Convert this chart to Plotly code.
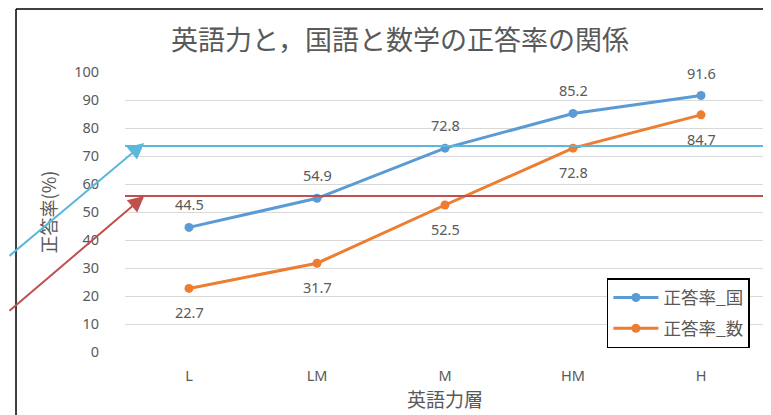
import plotly.graph_objects as go

categories = ["L", "LM", "M", "HM", "H"]
kokugo = [44.5, 54.9, 72.8, 85.2, 91.6]
sugaku = [22.7, 31.7, 52.5, 72.8, 84.7]
y_ticks = list(range(0, 101, 10))

# reference lines marked by the arrows
ref_kokugo = 73.6
ref_sugaku = 55.7

BLUE = "#5B9BD5"
ORANGE = "#ED7D31"
SKY = "#5BB8DC"
RED = "#C0504D"
GRAY = "#595959"
FONT = "Noto Sans, Noto Sans CJK JP, sans-serif"
JFONT = "Noto Sans CJK JP, sans-serif"

fig = go.Figure()
fig.add_trace(go.Scatter(x=categories, y=kokugo, name="正答率_国", mode="lines+markers",
                         line=dict(color=BLUE, width=3), marker=dict(size=9, color=BLUE),
                         legendgroup="a"))
fig.add_trace(go.Scatter(x=categories, y=sugaku, name="正答率_数", mode="lines+markers",
                         line=dict(color=ORANGE, width=3), marker=dict(size=9, color=ORANGE),
                         legendgroup="b"))

# data labels
for c, v in zip(categories, kokugo):
    fig.add_annotation(x=c, y=v, text=f"{v}", showarrow=False, yshift=23,
                       font=dict(size=14.5, color=GRAY, family=FONT))
for c, v in zip(categories, sugaku):
    fig.add_annotation(x=c, y=v, text=f"{v}", showarrow=False, yshift=-24,
                       font=dict(size=14.5, color=GRAY, family=FONT))

# horizontal marker lines
fig.add_shape(type="line", xref="paper", yref="y", x0=0, x1=1, y0=ref_kokugo, y1=ref_kokugo,
              line=dict(color=SKY, width=2))
fig.add_shape(type="line", xref="paper", yref="y", x0=0, x1=1, y0=ref_sugaku, y1=ref_sugaku,
              line=dict(color=RED, width=2))

# arrows coming in from the left
fig.add_annotation(xref="paper", yref="y", x=0.03, y=ref_kokugo + 1, text="", showarrow=True,
                   axref="pixel", ayref="pixel", ax=-155, ay=114, arrowhead=2, arrowsize=1.6,
                   arrowwidth=2, arrowcolor=SKY, standoff=0)
fig.add_annotation(xref="paper", yref="y", x=0.03, y=ref_sugaku, text="", showarrow=True,
                   axref="pixel", ayref="pixel", ax=-155, ay=116, arrowhead=2, arrowsize=1.6,
                   arrowwidth=2, arrowcolor=RED, standoff=0)

# chart frame (top and left edges visible)
fig.add_shape(type="line", xref="paper", yref="paper", x0=-0.1703, x1=-0.1703, y0=-0.4, y1=1.225,
              line=dict(color="black", width=1.5))
fig.add_shape(type="line", xref="paper", yref="paper", x0=-0.1703, x1=1.1, y0=1.225, y1=1.225,
              line=dict(color="black", width=1.5))

# the page body adds an 8px offset, so the layout is shifted up/left by 8px
fig.update_layout(
    width=771, height=415,
    margin=dict(l=117, r=14, t=64, b=71, autoexpand=False),
    paper_bgcolor="white", plot_bgcolor="white",
    font=dict(family=FONT, color=GRAY),
    title=dict(text="英語力と，国語と数学の正答率の関係", x=392 / 771, xref="container", xanchor="center",
               y=1 - 33 / 415, yref="container", yanchor="middle", automargin=False,
               font=dict(size=27, color=GRAY, family=JFONT)),
    legend=dict(x=0.753, y=0.264, xanchor="left", yanchor="top", bordercolor="black", borderwidth=1.5,
                bgcolor="white", font=dict(size=17.5, color=GRAY, family=JFONT), tracegroupgap=5,
                itemwidth=45),
    showlegend=True,
)
fig.update_xaxes(range=[-0.5, 4.5], showgrid=False, showline=False, ticks="outside", ticklen=11,
                 automargin=False, tickcolor="rgba(0,0,0,0)", tickfont=dict(size=14.5, color=GRAY),
                 title=dict(text="英語力層", font=dict(size=19, color=GRAY, family=JFONT), standoff=5))
fig.update_yaxes(range=[0, 100], tickvals=y_ticks, showgrid=True, gridcolor="#D9D9D9", gridwidth=1,
                 zeroline=False, showline=False, ticks="outside", ticklen=22, automargin=False,
                 tickcolor="rgba(0,0,0,0)", tickfont=dict(size=14.5, color=GRAY),
                 title=dict(text="正答率(%)", font=dict(size=18, color=GRAY, family=JFONT), standoff=12))

fig.write_html("out.html")
